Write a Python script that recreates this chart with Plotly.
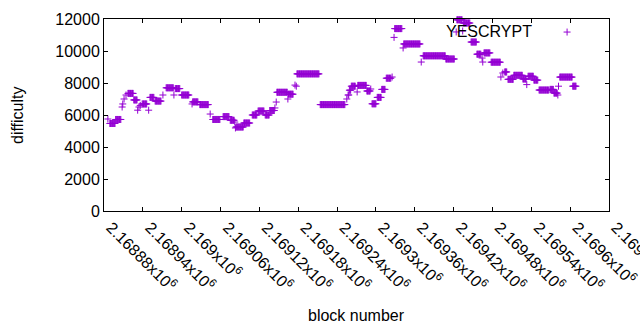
import plotly.graph_objects as go

# Runs of constant difficulty: first block, last block, difficulty
run_start = [2168886, 2168889, 2168898, 2168908, 2168909, 2168911, 2168914, 2168917, 2168926, 2168932,
             2168934, 2168936, 2168939, 2168949, 2168951, 2168959, 2168971, 2168976, 2168988, 2168990,
             2169000, 2169016, 2169017, 2169028, 2169044, 2169048, 2169064, 2169075, 2169082, 2169083,
             2169084, 2169096, 2169109, 2169118, 2169129, 2169136, 2169144, 2169146, 2169147, 2169164,
             2169165, 2169175, 2169177, 2169178, 2169214, 2169255, 2169257, 2169259, 2169262, 2169271,
             2169272, 2169286, 2169292, 2169294, 2169302, 2169309, 2169316, 2169325, 2169328, 2169329,
             2169342, 2169343, 2169370, 2169373, 2169408, 2169424, 2169425, 2169434, 2169435, 2169447,
             2169456, 2169464, 2169465, 2169467, 2169478, 2169493, 2169496, 2169499, 2169504, 2169513,
             2169527, 2169533, 2169535, 2169544, 2169552, 2169569, 2169575, 2169581, 2169582, 2169584,
             2169604]
run_end = [2168886, 2168897, 2168906, 2168908, 2168909, 2168911, 2168914, 2168925, 2168931, 2168932,
           2168934, 2168936, 2168946, 2168949, 2168957, 2168968, 2168971, 2168987, 2168988, 2168997,
           2169011, 2169016, 2169025, 2169041, 2169044, 2169059, 2169073, 2169081, 2169082, 2169083,
           2169095, 2169105, 2169116, 2169127, 2169135, 2169143, 2169144, 2169146, 2169163, 2169164,
           2169172, 2169175, 2169177, 2169212, 2169252, 2169255, 2169258, 2169261, 2169268, 2169271,
           2169285, 2169291, 2169292, 2169300, 2169308, 2169314, 2169323, 2169325, 2169328, 2169340,
           2169342, 2169368, 2169370, 2169407, 2169421, 2169424, 2169433, 2169434, 2169445, 2169455,
           2169462, 2169464, 2169465, 2169476, 2169492, 2169493, 2169496, 2169502, 2169512, 2169526,
           2169532, 2169533, 2169543, 2169550, 2169567, 2169574, 2169580, 2169581, 2169582, 2169603,
           2169609]
run_diff = [5750, 5470, 5720, 6500, 6690, 7000, 7250, 7350, 6940, 6300,
            6500, 6600, 6690, 6300, 7100, 6870, 7250, 7700, 7250, 7650,
            7250, 6690, 6820, 6650, 6060, 5720, 5900, 5670, 5560, 5190,
            5250, 5500, 6000, 6250, 6000, 6280, 6440, 6810, 7420, 7000,
            7300, 7870, 7800, 8570, 6650, 7000, 7250, 7550, 7800, 7440,
            7850, 7500, 7625, 6700, 7100, 7600, 8300, 8375, 10850, 11400,
            10190, 10440, 9310, 9700, 9500, 11190, 11950, 11250, 11750, 10560,
            9800, 9560, 9310, 9880, 9300, 8375, 8625, 8690, 8230, 8480,
            8250, 7900, 8420, 8180, 7560, 7600, 7370, 7250, 7800, 8370,
            7800]

x_tickvals = [2168880, 2168940, 2169000, 2169060, 2169120, 2169180, 2169240,
              2169300, 2169360, 2169420, 2169480, 2169540, 2169600, 2169660]
x_ticktext = ["2.16888x10<sup>6</sup>", "2.16894x10<sup>6</sup>", "2.169x10<sup>6</sup>",
              "2.16906x10<sup>6</sup>", "2.16912x10<sup>6</sup>", "2.16918x10<sup>6</sup>",
              "2.16924x10<sup>6</sup>", "2.1693x10<sup>6</sup>", "2.16936x10<sup>6</sup>",
              "2.16942x10<sup>6</sup>", "2.16948x10<sup>6</sup>", "2.16954x10<sup>6</sup>",
              "2.1696x10<sup>6</sup>", "2.16966x10<sup>6</sup>"]
y_tickvals = [0, 2000, 4000, 6000, 8000, 10000, 12000]
y_ticktext = ["0", "2000", "4000", "6000", "8000", "10000", "12000"]

blocks, diffs = [], []
for s, e, d in zip(run_start, run_end, run_diff):
    for b in range(s, e + 1):
        blocks.append(b)
        diffs.append(d)

COLOR = "#9400D3"
FONT = "Liberation Sans, Arial, sans-serif"

fig = go.Figure()
fig.add_trace(go.Scatter(
    x=blocks, y=diffs, mode="markers", name="YESCRYPT",
    marker=dict(symbol="cross-thin", size=5, line=dict(color=COLOR, width=1), color=COLOR),
    cliponaxis=False, showlegend=False, hoverinfo="skip",
))

axis_common = dict(showline=True, linecolor="black", linewidth=1, mirror="ticks",
                   ticks="inside", ticklen=4, tickcolor="black", showgrid=False,
                   zeroline=False, tickfont=dict(family=FONT, size=16, color="black"))

fig.update_layout(
    width=640, height=330,
    margin=dict(l=104, r=31, t=19, b=119, autoexpand=False),
    paper_bgcolor="white", plot_bgcolor="white",
    font=dict(family=FONT, size=16, color="black"),
    xaxis=dict(range=[2168880, 2169660], tickvals=x_tickvals, ticktext=x_ticktext,
               tickangle=45, ticklabelshift=7, ticklabeloverflow="allow",
               automargin=False, **axis_common),
    yaxis=dict(range=[0, 12000], tickvals=y_tickvals, ticktext=y_ticktext,
               automargin=False, **axis_common),
    annotations=[
        dict(text="block number", xref="paper", yref="paper", x=0.5, y=-0.5417,
             xanchor="center", yanchor="middle", showarrow=False, font=dict(size=16)),
        dict(text="difficulty", xref="paper", yref="paper", x=-0.1723, y=0.5,
             xanchor="center", yanchor="middle", textangle=-90, showarrow=False, font=dict(size=16)),
        dict(text="YESCRYPT", xref="paper", yref="paper", x=0.852, y=0.935,
             xanchor="right", yanchor="middle", showarrow=False, font=dict(size=16)),
    ],
    shapes=[
        dict(type="line", xref="paper", yref="paper", xsizemode="pixel", ysizemode="pixel",
             xanchor=0.917, yanchor=0.932, x0=-3.5, x1=3.5, y0=0, y1=0,
             line=dict(color=COLOR, width=1)),
        dict(type="line", xref="paper", yref="paper", xsizemode="pixel", ysizemode="pixel",
             xanchor=0.917, yanchor=0.932, x0=0, x1=0, y0=-3.5, y1=3.5,
             line=dict(color=COLOR, width=1)),
    ],
)

fig.write_html("out.html", config={"displayModeBar": False},
               post_script="document.body.style.margin='0';document.body.style.overflow='hidden';")
